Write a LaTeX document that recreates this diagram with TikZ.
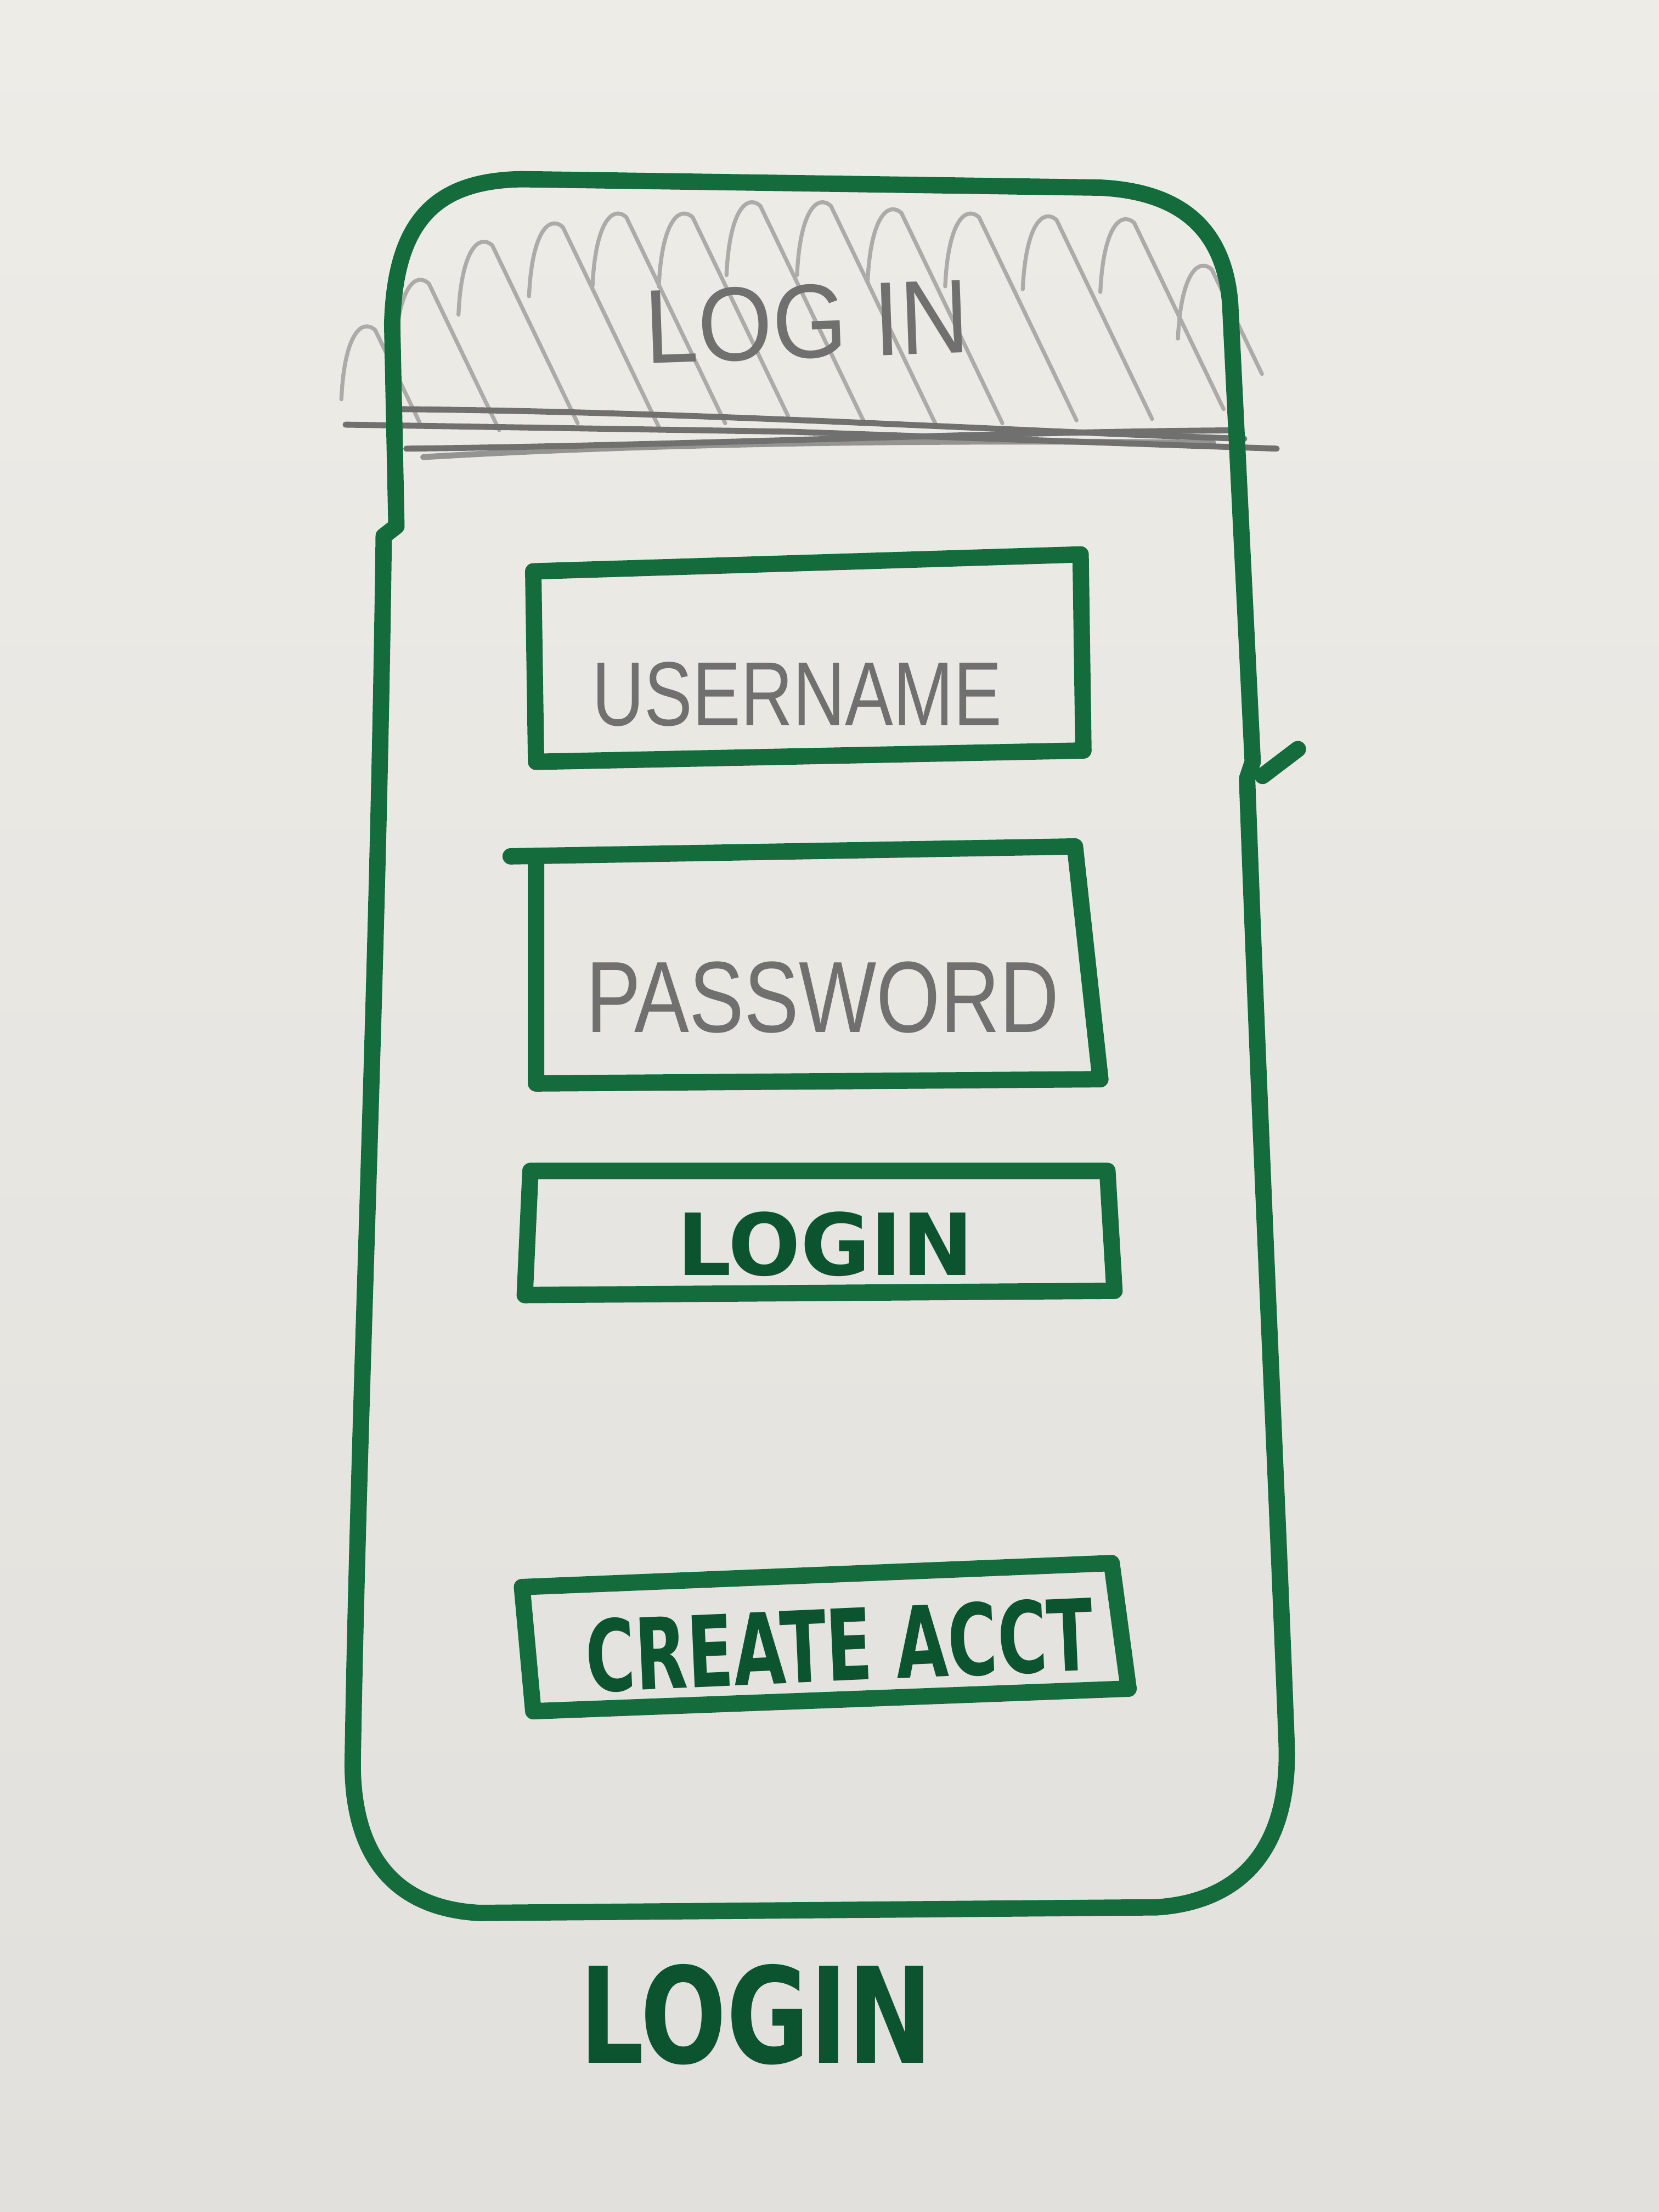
\documentclass[tikz,border=0pt]{standalone}
\usepackage{fontspec}
\usepackage{graphicx}
\newfontfamily\pencilfont{Liberation Sans}
\newfontfamily\markerfont{DejaVu Sans}
\definecolor{paperTop}{RGB}{238,236,231}
\definecolor{paperBot}{RGB}{226,224,220}
\definecolor{inkgreen}{RGB}{20,108,60}
\definecolor{inkdark}{RGB}{12,84,48}
\definecolor{pencilgray}{RGB}{112,112,110}
\definecolor{hatchgray}{RGB}{172,171,168}
\tikzset{
  ink/.style={draw=inkgreen, line width=3.3pt, line cap=round, line join=round},
  pencil/.style={draw=pencilgray, line width=1.2pt, line cap=round, line join=round},
  hatch/.style={draw=hatchgray, line width=0.8pt, line cap=round, line join=round},
  pencillabel/.style={inner sep=0pt, text=pencilgray, font=\pencilfont},
  inklabel/.style={inner sep=0pt, text=inkdark, font=\markerfont\bfseries},
}
\begin{document}
\begin{tikzpicture}[x=0.01cm, y=-0.01cm]
  % paper
  \fill[top color=paperTop, bottom color=paperBot] (0,0) rectangle (1176,1568);
  \useasboundingbox (0,0) rectangle (1176,1568);

  % header hatching: looped pencil strokes running down to the right
  \foreach \x/\yt/\yb in {262/228/300, 300/195/305, 345/168/300, 395/155/305,
                          440/148/300, 487/148/295, 535/140/300, 585/140/300,
                          635/145/300, 690/148/298, 745/150/297, 800/152/290,
                          855/185/265} {
    \pgfmathsetmacro\xe{\x+4+0.48*(\yb-\yt-6)}
    \draw[hatch] (\x-20,\yt+55) .. controls (\x-18,\yt+10) and (\x-6,\yt-3) .. (\x+4,\yt+6) -- (\xe,\yb);
  }

  % header divider (pencil)
  \draw[pencil] (245,301) -- (560,306) -- (905,318);
  \draw[pencil] (282,290) .. controls (500,292) and (700,305) .. (882,311);
  \draw[pencil] (288,318) .. controls (480,316) and (700,306) .. (880,305);
  \draw[pencil, draw opacity=0.7] (300,324) .. controls (500,312) and (720,312) .. (860,314);

  % header title
  \node[pencillabel, rotate=2] (title) at (572,228) {\resizebox{2.3cm}{0.52cm}{LOG IN}};

  % phone outline
  \draw[ink] (281,373) -- (278,230)
    .. controls (280,155) and (310,128) .. (370,127)
    -- (780,133)
    .. controls (840,136) and (868,165) .. (872,215)
    -- (888,540) -- (884,552)
    .. controls (895,850) and (905,1050) .. (912,1235)
    .. controls (915,1310) and (880,1348) .. (820,1352)
    -- (340,1356)
    .. controls (282,1353) and (250,1318) .. (250,1250)
    .. controls (254,1000) and (268,700) .. (272,380) -- cycle;
  \draw[ink] (895,550) -- (920,531);

  % username field
  \draw[ink] (378,405) -- (766,393) -- (768,532) -- (380,540) -- cycle;
  \node[pencillabel] (username) at (565,492) {\resizebox{2.9cm}{0.45cm}{USERNAME}};

  % password field
  \draw[ink] (362,607) -- (762,600) -- (780,765) -- (380,768) -- (380,612);
  \node[pencillabel] (password) at (583,707) {\resizebox{3.35cm}{0.5cm}{PASSWORD}};

  % login button
  \draw[ink] (376,830) -- (785,830) -- (790,915) -- (372,918) -- cycle;
  \node[inklabel] (loginbtn) at (585,882) {\resizebox{2.1cm}{0.45cm}{LOGIN}};

  % create account button
  \draw[ink] (370,1125) -- (788,1108) -- (800,1197) -- (378,1213) -- cycle;
  \node[inklabel, rotate=2.5] (createbtn) at (595,1166) {\resizebox{3.6cm}{0.52cm}{CREATE ACCT}};

  % screen caption
  \node[inklabel] (caption) at (536,1428) {\resizebox{2.5cm}{0.7cm}{LOGIN}};
\end{tikzpicture}
\end{document}
